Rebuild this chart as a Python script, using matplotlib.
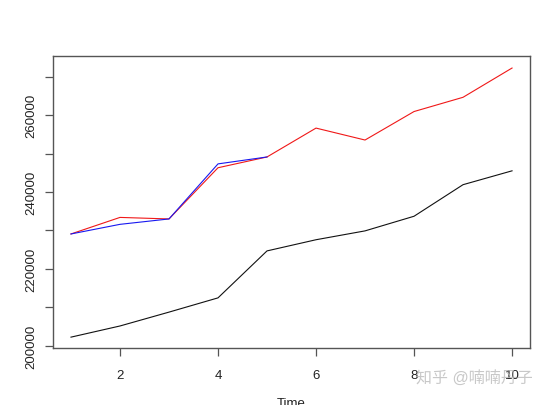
import matplotlib.pyplot as plt
import numpy as np

plt.rcParams['font.family'] = ['Liberation Sans', 'Noto Sans CJK SC', 'DejaVu Sans']

# data
time = [1, 2, 3, 4, 5, 6, 7, 8, 9, 10]
black = [202300, 205200, 208800, 212500, 224700, 227600, 229900, 233700, 241900, 245500]
red = [229100, 233400, 233000, 246300, 249100, 256600, 253500, 260900, 264600, 272200]
blue_time = [1, 2, 3, 4, 5]
blue = [229100, 231600, 233000, 247300, 249100]

yticks = [200000, 210000, 220000, 230000, 240000, 250000, 260000, 270000]
ylabels = ['200000', '', '220000', '', '240000', '', '260000', '']

fig = plt.figure(figsize=(5.48, 4.06), dpi=100)
ax = fig.add_axes([0.0967, 0.1404, 0.8705, 0.7192])

ax.plot(time, black, color='#111111', lw=0.8)
ax.plot(time, red, color='#f01818', lw=0.8)
ax.plot(blue_time, blue, color='#1818f0', lw=0.8)

ax.set_xlim(0.633, 10.367)
ax.set_ylim(199480, 275325)
ax.set_xticks([2, 4, 6, 8, 10])
ax.set_yticks(yticks)
ax.set_yticklabels(ylabels, rotation=90, va='center')

for s in ax.spines.values():
    s.set_color('#555555')
    s.set_linewidth(1.0)
ax.tick_params(direction='out', length=6, width=0.9, color='#555555',
               labelsize=9.5, labelcolor='#222222')
ax.tick_params(axis='x', pad=9)
ax.tick_params(axis='y', pad=5)

ax.set_xlabel('Time', fontsize=9.5, color='#222222', labelpad=12)

fig.text(0.973, 0.068, '知乎 @喃喃丹子', ha='right', va='center',
         fontsize=11.5, color='#bbbbbb', alpha=0.8)

fig.savefig('out.png', dpi=100)
